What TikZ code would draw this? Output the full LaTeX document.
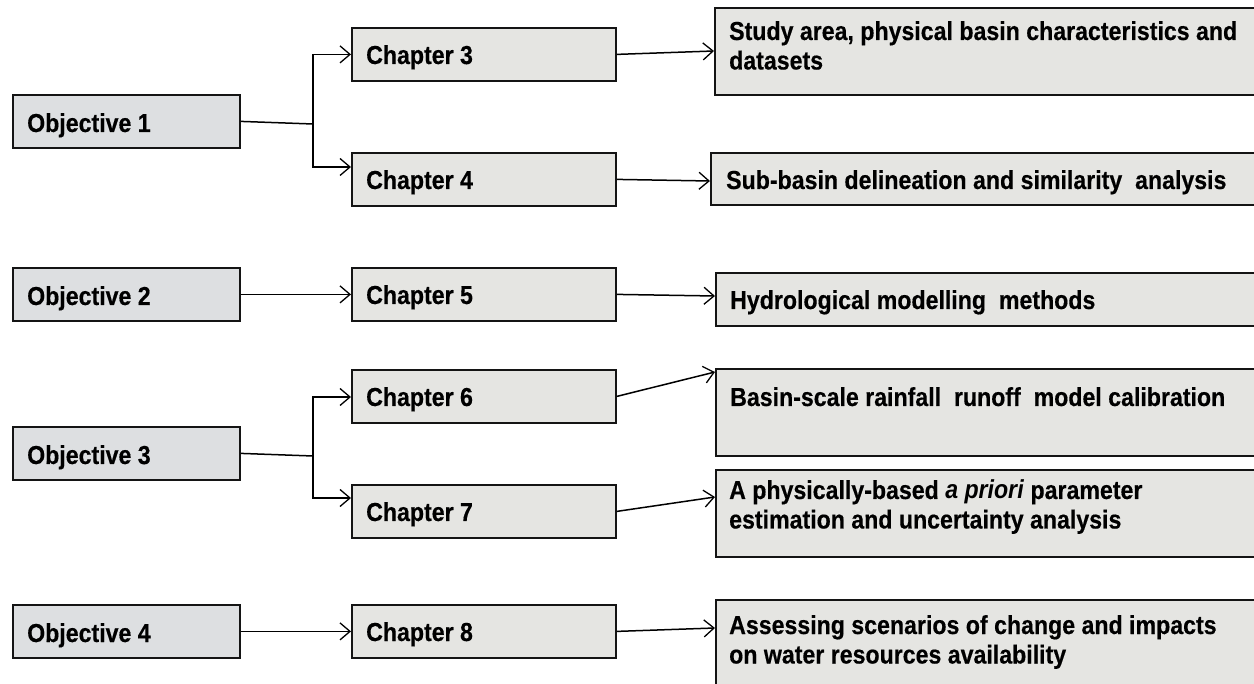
\documentclass[tikz,border=0pt]{standalone}
\usepackage{fontspec}
\setmainfont{Liberation Sans}[FakeStretch=0.89, BoldFeatures={FakeBold=0.4}]
\usetikzlibrary{arrows.meta,calc}

\definecolor{stone}{RGB}{229,229,226}
\definecolor{marble}{RGB}{221,223,225}
\definecolor{edge}{RGB}{20,20,20}

% two stacked lines whose baseline is that of the first one
\newcommand{\pairlines}[2]{\vtop{\hbox{#1}\hbox{#2}}}

\tikzset{
  boxbase/.style={draw=edge, line width=1.8pt, anchor=north west, inner sep=0pt},
  objbox/.style={boxbase, fill=marble, minimum width=227pt, minimum height=53pt},
  chapbox/.style={boxbase, fill=stone, minimum width=264pt, minimum height=53pt},
  infobox/.style={boxbase, fill=stone, minimum width=600pt, minimum height=#1},
  lbl/.style={anchor=base west, inner sep=0pt,
    font=\fontsize{26pt}{29.5pt}\selectfont\bfseries},
  wire/.style={draw=black, line width=1.5pt},
  conn/.style={wire, -{Straight Barb[length=10pt,width=17pt,line width=1.3pt]}},
}

\begin{document}
\begin{tikzpicture}[x=1pt,y=-1pt]
\useasboundingbox (0,0) rectangle (1254,684);
\clip (0,0) rectangle (1254,684);

% objectives
\node[objbox] (o1) at (12,94)  {};
\node[objbox] (o2) at (12,267) {};
\node[objbox] (o3) at (12,426) {};
\node[objbox] (o4) at (12,604) {};
\node[lbl] (o1t) at (27,132) {Objective 1};
\node[lbl] (o2t) at (27,305) {Objective 2};
\node[lbl] (o3t) at (27,464) {Objective 3};
\node[lbl] (o4t) at (27,642) {Objective 4};

% chapters
\node[chapbox] (c3) at (351,27)  {};
\node[chapbox] (c4) at (351,152) {};
\node[chapbox] (c5) at (351,267) {};
\node[chapbox] (c6) at (351,369) {};
\node[chapbox] (c7) at (351,484) {};
\node[chapbox] (c8) at (351,604) {};
\node[lbl] (c3t) at (366,64)  {Chapter 3};
\node[lbl] (c4t) at (366,189) {Chapter 4};
\node[lbl] (c5t) at (366,304) {Chapter 5};
\node[lbl] (c6t) at (366,406) {Chapter 6};
\node[lbl] (c7t) at (366,521) {Chapter 7};
\node[lbl] (c8t) at (366,641) {Chapter 8};

% chapter contents
\node[infobox=87pt]  (r3) at (714,7)   {};
\node[infobox=52pt]  (r4) at (710,152) {};
\node[infobox=53pt]  (r5) at (715,272) {};
\node[infobox=87pt]  (r6) at (715,368) {};
\node[infobox=87pt]  (r7) at (715,469) {};
\node[infobox=120pt] (r8) at (715,599) {};
\node[lbl] (r3t) at (729,40)  {\pairlines{Study area, physical basin characteristics and}{datasets}};
\node[lbl] (r4t) at (726,189) {Sub-basin delineation and similarity\ \ analysis};
\node[lbl] (r5t) at (730,309) {Hydrological modelling\ \ methods};
\node[lbl] (r6t) at (730,406) {Basin-scale rainfall\ \ runoff\ \ model calibration};
\node[lbl] (r7t) at (729,499) {\pairlines{A physically-based \textit{a priori} parameter}{estimation and uncertainty analysis}};
\node[lbl] (r8t) at (729,634) {\pairlines{Assessing scenarios of change and impacts}{on water resources availability}};

% objective to chapter links
\coordinate (j1) at (313,124);
\coordinate (j3) at (313,456);
\draw[wire] (o1.east) -- (j1);
\draw[conn] (j1) |- (c3.west);
\draw[conn] (j1) |- ($(c4.north west)+(0,15)$);
\draw[conn] (o2.east) -- (c5.west);
\draw[wire] (o3.east) -- (j3);
\draw[conn] (j3) |- ($(c6.north west)+(0,28)$);
\draw[conn] (j3) |- ($(c7.north west)+(0,14)$);
\draw[conn] (o4.east) -- (c8.west);

% chapter to content links
\draw[conn] (c3.east) -- ($(r3.north west)+(0,44)$);
\draw[conn] (c4.east) -- ($(r4.north west)+(0,29)$);
\draw[conn] (c5.east) -- ($(r5.north west)+(0,24)$);
\draw[conn] (c6.east) -- ($(r6.north west)+(0,4)$);
\draw[conn] (c7.east) -- ($(r7.north west)+(0,28)$);
\draw[conn] (c8.east) -- ($(r8.north west)+(0,29)$);
\end{tikzpicture}
\end{document}
